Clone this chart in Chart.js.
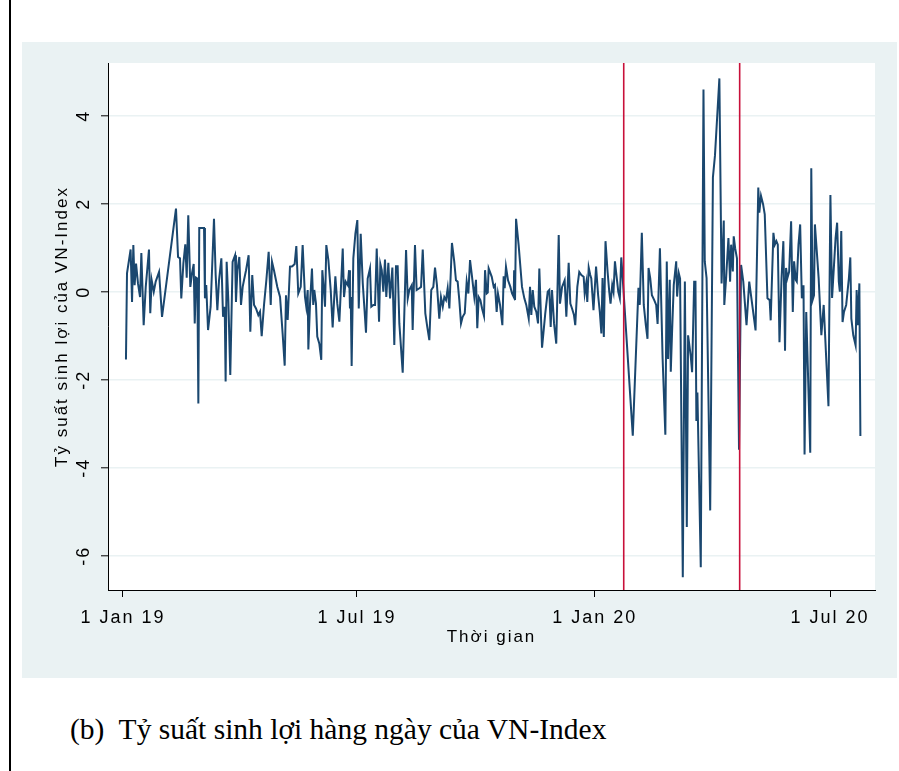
<!DOCTYPE html>
<html><head><meta charset="utf-8">
<script src="https://cdn.jsdelivr.net/npm/chart.js@4.4.1/dist/chart.umd.min.js"></script>
<style>
html,body{margin:0;padding:0;background:#fff;width:899px;height:771px;overflow:hidden;}
#rule{position:absolute;left:9px;top:0;width:2px;height:771px;background:#000;}
#panel{position:absolute;left:22px;top:42px;width:875px;height:636px;background:#eaf2f3;}
#caption{position:absolute;left:70px;top:715px;font-family:"Liberation Serif","Times New Roman",serif;font-size:29.5px;line-height:1;white-space:pre;color:#000;}
</style></head><body>
<div id="rule"></div>
<div id="panel"><canvas id="c" width="875" height="636"></canvas></div>
<div id="caption">(b)  Tỷ suất sinh lợi hàng ngày của VN-Index</div>
<script>
// x values: days since 1 Jan 2019
const dayOffsets = [
2.3,3.1,5.9,7.0,8.0,9.0,10.1,11.6,13.2,14.2,16.0,17.6,20.1,21.1,22.2,23.8,25.3,27.9,30.2,
41.0,42.6,44.1,45.1,46.7,48.2,49.3,50.5,52.1,53.4,54.7,55.5,56.5,57.5,58.3,59.0,62.7,63.4,64.4,65.8,
67.8,70.4,71.7,73.0,74.3,76.1,77.4,78.7,79.4,80.2,81.5,83.0,84.8,86.7,87.4,88.5,90.0,91.3,92.6,93.6,
95.2,97.2,98.5,100.0,101.4,102.9,104.7,106.0,107.3,109.1,110.9,112.7,114.3,115.3,116.8,119.4,121.5,
123.5,125.1,126.1,127.4,129.2,131.0,132.8,134.1,135.6,137.5,139.0,
140.8,141.8,142.9,143.4,144.7,146.2,147.2,148.0,149.3,150.3,151.9,153.4,154.2,155.3,156.3,157.3,158.9,
160.7,162.2,164.3,165.8,167.4,170.0,171.0,172.3,173.9,174.9,175.6,176.2,176.9,178.2,179.8,181.3,182.4,
183.9,185.5,186.7,188.0,189.3,191.1,192.1,193.7,195.0,196.3,198.1,199.1,200.2,201.4,202.7,203.7,205.3,
206.6,208.4,209.9,211.2,212.5,
213.8,216.4,219.0,220.3,221.5,223.4,224.1,225.9,227.2,229.3,230.6,231.9,233.9,235.4,237.0,238.5,240.1,
241.4,242.9,244.7,246.0,247.4,248.6,249.9,251.2,252.5,254.5,256.3,257.6,258.9,260.2,261.5,262.8,264.4,
265.9,267.2,268.5,270.0,271.8,273.1,274.1,275.2,276.5,277.8,279.3,280.1,281.4,282.2,282.9,285.3,286.8,287.8,
289.1,290.1,291.7,293.5,294.5,295.3,296.3,297.9,299.7,301.0,302.3,302.6,303.3,304.1,306.1,308.7,310.5,
312.0,313.9,314.9,315.9,317.0,318.2,319.8,321.1,322.1,324.2,326.7,328.6,329.8,330.9,331.9,333.5,335.2,
337.1,338.1,339.7,341.7,343.0,344.8,346.1,347.4,348.9,349.9,351.5,353.0,354.6,356.4,357.2,358.4,359.2,
360.3,361.5,362.3,
364.0,366.0,367.6,368.9,370.1,371.0,372.0,373.3,374.9,376.2,377.2,378.5,379.5,380.6,381.6,383.2,384.4,
385.5,386.6,
394.4,398.8,399.8,401.4,402.9,404.5,405.8,406.6,407.9,409.2,411.0,412.5,413.6,415.4,417.5,419.6,420.7,
421.7,423.0,423.8,424.8,426.1,428.0,428.7,430.0,431.0,433.1,434.7,436.2,437.2,
439.2,440.3,441.9,442.9,443.6,444.4,447.0,449.1,450.1,451.5,454.3,456.4,458.0,461.4,463.1,464.8,465.2,
466.6,468.4,469.7,470.5,471.8,472.5,473.6,475.0,476.6,478.2,479.9,482.4,484.5,489.4,491.5,492.3,493.6,
495.2,496.5,498.6,500.3,501.1,503.2,504.3,505.5,506.6,507.9,509.5,
510.9,512.2,513.0,514.0,515.4,516.9,518.2,519.2,520.5,521.3,522.6,523.9,525.2,526.5,527.3,528.6,531.7,
532.5,533.5,534.6,535.3,536.4,538.2,540.3,542.1,545.8,547.3,548.6,551.3,552.5,553.8,554.6,555.7,556.7,
557.8,559.5,561.6,562.7,563.5,565.0,566.8,567.6,568.5,569.7,570.5
];
// daily return of VN-Index (%)
const dailyReturns = [
-1.54,0.42,0.96,-0.23,1.06,0.15,0.64,0.19,-0.12,0.88,-0.76,0.11,0.96,-0.49,0.26,0.00,0.23,0.45,-0.57,
1.89,0.79,0.76,-0.15,0.64,1.08,0.32,1.74,0.11,0.42,0.63,-0.72,0.32,0.30,-2.54,1.45,1.45,-0.15,0.15,-0.87,
-0.34,1.66,0.38,-0.42,0.26,0.76,-0.57,-0.34,-2.04,0.68,-0.19,-1.89,0.68,0.83,-0.23,0.49,0.79,-0.30,0.11,0.26,
0.49,0.83,-0.91,0.38,-0.30,-0.38,-0.53,-0.45,-1.01,-0.30,0.26,0.91,-0.30,0.68,0.49,0.11,-0.12,
-0.95,-1.68,-0.08,-0.64,0.57,0.58,0.63,1.04,-0.04,0.11,1.06,
-0.12,-0.34,0.04,-1.31,-0.27,0.53,-0.30,0.04,-0.27,-1.02,-1.18,-1.55,0.49,0.08,-0.34,1.06,0.72,
0.04,-0.81,0.35,-0.27,-0.68,0.98,-0.12,0.23,0.15,0.49,-0.38,-0.12,-1.69,0.76,1.32,1.63,-0.38,
1.32,0.19,-0.34,-0.93,0.30,0.53,-0.34,-0.30,-0.30,0.98,-0.68,0.63,0.49,0.00,0.73,-0.12,0.66,
-0.15,0.55,-1.21,0.58,0.58,
-0.72,-1.84,0.95,-0.15,0.04,0.15,-0.87,1.06,0.04,0.08,0.11,0.96,-0.49,-0.80,-1.10,0.04,0.11,
0.55,0.15,-0.61,-0.12,-0.34,-0.12,-0.19,0.08,-0.38,1.11,0.68,0.26,0.23,-0.19,-0.72,-0.57,-0.49,
0.23,-0.04,0.72,0.35,-0.12,0.27,-0.83,-0.12,-0.19,-0.38,-0.55,0.49,-0.04,-0.02,0.53,0.34,0.11,0.15,
-0.46,-0.04,-0.30,-0.76,0.35,0.08,0.57,0.26,0.11,-0.04,-0.12,0.49,-0.19,1.66,1.06,0.11,-0.15,
-0.30,-0.61,0.11,-0.53,0.04,-0.34,-0.46,-0.72,0.53,-1.27,-0.49,0.00,0.04,-0.80,0.04,-0.72,-1.18,
1.29,-0.27,0.11,0.26,-0.57,0.66,-0.27,-0.38,-0.53,-0.76,0.11,0.45,0.38,0.34,-0.04,0.20,-0.23,
0.55,0.38,0.30,
-0.42,0.57,-0.08,-0.46,-0.95,0.31,-1.03,1.15,0.46,0.00,-0.27,0.15,0.00,0.69,0.42,0.00,-0.15,
0.78,0.31,
-3.27,0.09,-0.30,1.34,-0.30,-0.76,-1.07,0.54,0.31,-0.08,-0.19,-0.30,-0.73,0.99,-1.53,-3.25,0.69,
-1.53,0.27,-1.82,-0.92,0.15,0.69,-0.11,0.42,0.30,-6.49,0.23,-5.35,-0.99,
-1.45,-1.83,0.23,0.23,-2.94,-2.29,-6.26,4.60,0.69,0.31,-4.97,2.60,3.10,4.85,0.19,1.62,-0.30,
0.31,1.22,0.23,1.07,0.46,1.26,0.99,0.76,-3.59,0.61,0.23,-0.76,0.23,-0.88,2.37,1.80,2.18,
1.99,1.76,-0.15,-0.19,-0.65,1.34,1.07,1.15,1.07,-1.15,0.31,
1.15,-1.34,0.54,0.31,0.46,1.60,-0.46,0.69,0.27,0.23,1.07,1.53,-0.15,0.15,-3.70,-0.46,-3.66,
2.81,-0.19,-0.08,1.53,1.07,0.31,-0.99,-0.30,-2.60,2.20,-0.14,1.22,1.57,0.23,0.00,1.38,-0.69,
-0.46,-0.30,0.31,0.78,-0.61,-0.99,-1.22,0.04,-0.76,0.19,-3.28
];
// vertical reference lines (days since 1 Jan 2019): 23 Jan 2020, 22 Apr 2020
const eventDays = [387.4, 477.1];
const xTickDays = [0, 181, 365, 547];
const xTickLabels = ["1 Jan 19", "1 Jul 19", "1 Jan 20", "1 Jul 20"];
const yTickValues = [-6, -4, -2, 0, 2, 4];
const yTickLabels = ["-6", "-4", "-2", "0", "2", "4"];
const xAxisTitle = "Thời gian";
const yAxisTitle = "Tỷ suất sinh lợi của VN-Index";

const X_MIN = -11.6, X_MAX = 581.8, Y_MIN = -6.78, Y_MAX = 5.2;

const seriesPoints = dayOffsets.map((d, i) => ({x: d, y: dailyReturns[i]}));
const eventSets = eventDays.map(d => ({
  data: [{x: d, y: Y_MIN}, {x: d, y: Y_MAX}],
  borderColor: '#c8103a', borderWidth: 1.6, pointRadius: 0, order: 1
}));

const whitePlot = {
  id: 'whitePlot',
  beforeDraw(chart) {
    const {ctx, chartArea: a} = chart;
    ctx.letterSpacing = '2px';
    ctx.save();
    ctx.fillStyle = '#ffffff';
    ctx.fillRect(a.left, a.top, a.right - a.left, a.bottom - a.top);
    ctx.restore();
  }
};

const tickFont = {family: '"Liberation Sans", Arial, sans-serif', size: 18};
const titleFont = {family: '"Liberation Sans", Arial, sans-serif', size: 17};

new Chart(document.getElementById('c'), {
  type: 'line',
  data: {
    datasets: [
      {data: seriesPoints, borderColor: '#1a476f', borderWidth: 2, pointRadius: 0, tension: 0, order: 2},
      ...eventSets
    ]
  },
  options: {
    responsive: false,
    animation: false,
    devicePixelRatio: 1,
    layout: {padding: {left: 0, top: 21, right: 22, bottom: 0}},
    plugins: {legend: {display: false}, tooltip: {enabled: false}},
    elements: {line: {borderJoinStyle: 'miter'}},
    scales: {
      x: {
        type: 'linear', min: X_MIN, max: X_MAX,
        afterBuildTicks: s => { s.ticks = xTickDays.map(v => ({value: v})); },
        afterFit: s => { s.height = 88; },
        ticks: {callback: (v, i) => xTickLabels[i], maxRotation: 0, minRotation: 0, padding: 10, color: '#000', font: tickFont, autoSkip: false},
        grid: {drawOnChartArea: false, tickLength: 7, tickColor: '#000', tickWidth: 1},
        border: {display: true, color: '#000', width: 1},
        title: {display: true, text: xAxisTitle, color: '#000', font: titleFont, padding: {top: 0, bottom: 30}}
      },
      y: {
        type: 'linear', min: Y_MIN, max: Y_MAX,
        afterBuildTicks: s => { s.ticks = yTickValues.map(v => ({value: v})); },
        afterFit: s => { s.width = 86; },
        ticks: {callback: (v, i) => yTickLabels[i], minRotation: 90, maxRotation: 90, crossAlign: 'center', padding: 9, color: '#000', font: tickFont, autoSkip: false},
        grid: {drawOnChartArea: true, color: '#eaf2f3', lineWidth: 1.6, tickLength: 7, tickColor: '#000', tickWidth: 1},
        border: {display: true, color: '#000', width: 1},
        title: {display: true, text: yAxisTitle, color: '#000', font: titleFont, padding: {top: 30, bottom: 0}}
      }
    }
  },
  plugins: [whitePlot]
});
</script>
</body></html>
